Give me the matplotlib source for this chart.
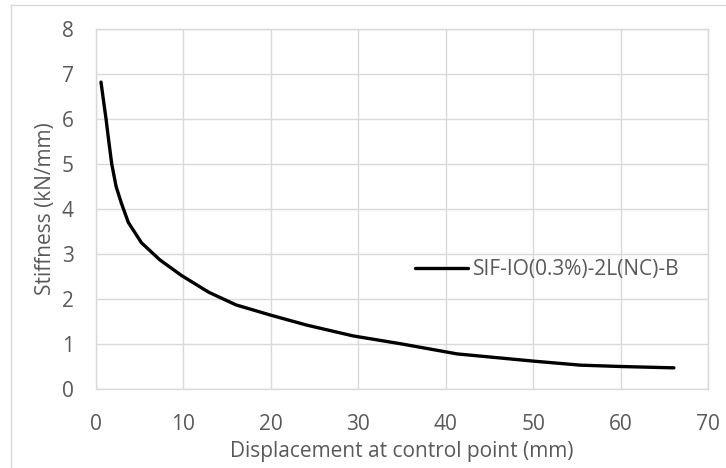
import matplotlib
matplotlib.use("Agg")
import matplotlib.pyplot as plt
from matplotlib.lines import Line2D

plt.rcParams['font.family'] = ['Open Sans', 'DejaVu Sans']

displacement = [0.57, 0.9, 1.15, 1.4, 1.8, 2.3, 2.9, 3.7, 5.2, 7.3, 9.8, 12.9,
                16.0, 20.0, 24.1, 29.4, 35.0, 41.3, 50.0, 55.4, 60.0, 66.1]
stiffness = [6.82, 6.35, 6.0, 5.6, 5.0, 4.5, 4.13, 3.7, 3.25, 2.87, 2.52, 2.15,
             1.87, 1.64, 1.42, 1.18, 1.0, 0.78, 0.62, 0.53, 0.50, 0.47]
series_name = "SIF-IO(0.3%)-2L(NC)-B"
x_ticks = [0, 10, 20, 30, 40, 50, 60, 70]
y_ticks = [0, 1, 2, 3, 4, 5, 6, 7, 8]

W, H = 726, 468
fig = plt.figure(figsize=(W / 100, H / 100), dpi=100)
ax = fig.add_axes([96 / W, (H - 389) / H, (708 - 96) / W, (389 - 29) / H])

grid_c = "#d9d9d9"
text_c = "#595959"
fs = 15

ax.plot(displacement, stiffness, color="black", lw=2.4, solid_capstyle="round",
        label=series_name)

ax.set_xlim(0, 70)
ax.set_ylim(0, 8)
ax.set_xticks(x_ticks)
ax.set_yticks(y_ticks)
ax.grid(True, color=grid_c, lw=1)
ax.set_axisbelow(True)
for s in ax.spines.values():
    s.set_color(grid_c)
    s.set_linewidth(1)
ax.tick_params(length=0, labelsize=fs, colors=text_c)
ax.tick_params(axis="x", pad=18)
ax.tick_params(axis="y", pad=16)

ax.set_xlabel("Displacement at control point (mm)", fontsize=fs, color=text_c, labelpad=4)
ax.set_ylabel("Stiffness (kN/mm)", fontsize=fs, color=text_c, labelpad=4)

ax.legend(loc="center left", bbox_to_anchor=((415 - 96) / 612, (389 - 270) / 360),
          frameon=False, fontsize=fs, labelcolor=text_c, handlelength=2.55,
          handletextpad=0.24, borderaxespad=0, borderpad=0)

# chart-area border (left and top edges)
fig.add_artist(Line2D([11 / W, 11 / W], [0, 1 - 5 / H], transform=fig.transFigure,
                      color=grid_c, lw=1))
fig.add_artist(Line2D([11 / W, 1], [1 - 5 / H, 1 - 5 / H], transform=fig.transFigure,
                      color=grid_c, lw=1))

fig.savefig("out.png", dpi=100)
